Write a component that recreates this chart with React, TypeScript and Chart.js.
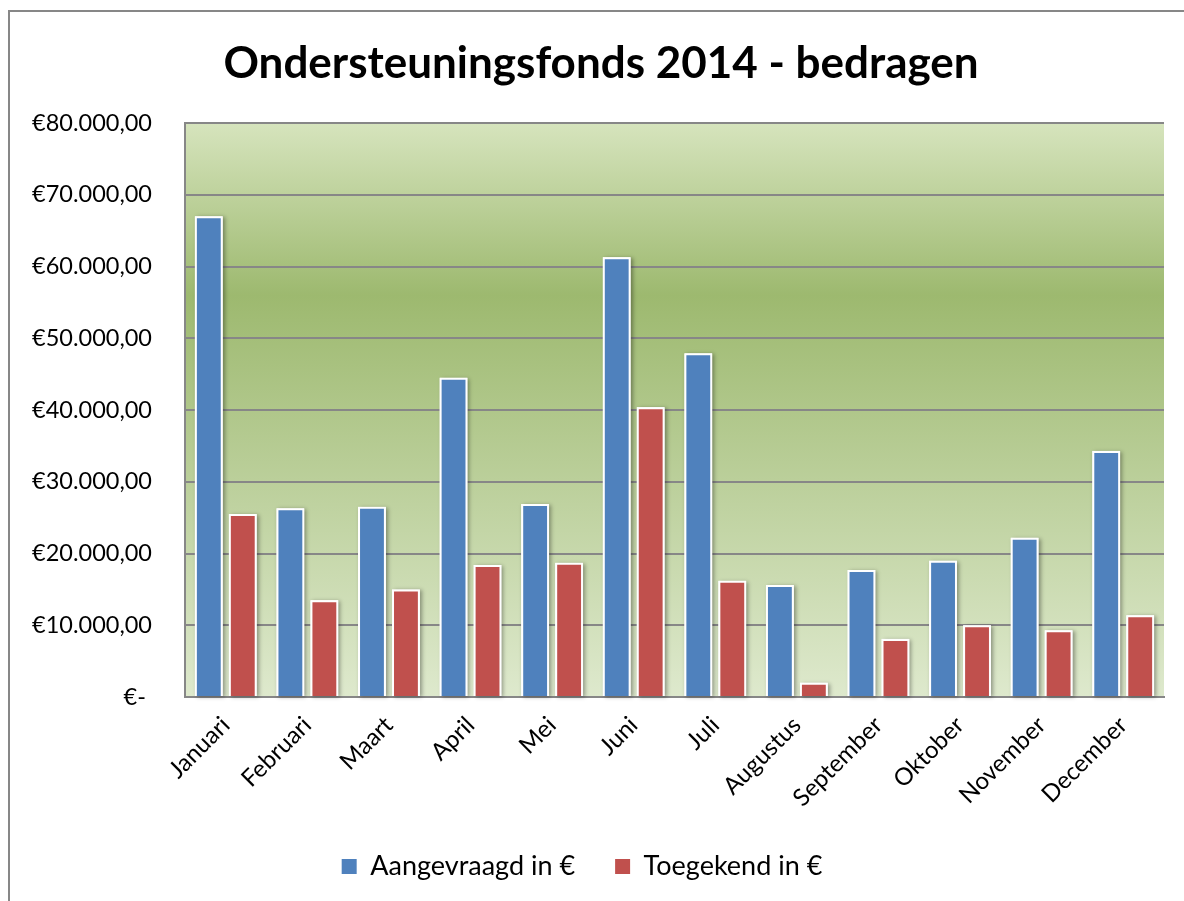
import { useEffect, useRef } from "react";
import { Chart, registerables } from "chart.js";

Chart.register(...registerables);

const chartTitle = "Ondersteuningsfonds 2014 - bedragen";
const months = [
  "Januari",
  "Februari",
  "Maart",
  "April",
  "Mei",
  "Juni",
  "Juli",
  "Augustus",
  "September",
  "Oktober",
  "November",
  "December",
];
const seriesNames = ["Aangevraagd in €", "Toegekend in €"];
const aangevraagd = [67000, 26300, 26500, 44500, 26900, 61300, 47900, 15600, 17700, 19000, 22200, 34300];
const toegekend = [25500, 13500, 15000, 18400, 18700, 40400, 16200, 2000, 8100, 10000, 9300, 11400];
const yMin = 0;
const yMax = 80000;
const yStep = 10000;

const FONT = "Lato, 'Open Sans', sans-serif";

function euro(v: number): string {
  if (v === 0) return "€- ";
  const s = Math.round(v)
    .toString()
    .replace(/\B(?=(\d{3})+(?!\d))/g, ".");
  return "€" + s + ",00";
}

const decorPlugin = {
  id: "decor",
  beforeDraw(chart: any) {
    const { ctx, chartArea, width, height } = chart;
    ctx.save();
    ctx.fillStyle = "#ffffff";
    ctx.fillRect(0, 0, width, height);
    ctx.strokeStyle = "#878787";
    ctx.lineWidth = 2;
    ctx.strokeRect(9, 11, width + 50, height + 50);
    const g = ctx.createLinearGradient(0, chartArea.top, 0, chartArea.bottom);
    g.addColorStop(0, "#d6e4bd");
    g.addColorStop(0.3, "#9db96f");
    g.addColorStop(1, "#dee9cd");
    ctx.fillStyle = g;
    ctx.fillRect(chartArea.left, chartArea.top, chartArea.right - chartArea.left, chartArea.bottom - chartArea.top);
    ctx.restore();
  },
  beforeDatasetsDraw(chart: any) {
    const { ctx } = chart;
    ctx.save();
    ctx.shadowColor = "rgba(0,0,0,0.35)";
    ctx.shadowBlur = 4;
    ctx.shadowOffsetX = 2;
    ctx.shadowOffsetY = 1;
    ctx.fillStyle = "#ffffff";
    chart.data.datasets.forEach((_d: any, i: number) => {
      const meta = chart.getDatasetMeta(i);
      meta.data.forEach((bar: any) => {
        const { x, y, base, width } = bar.getProps(["x", "y", "base", "width"], true);
        ctx.fillRect(x - width / 2, y, width, base - y);
      });
    });
    ctx.restore();
  },
  afterDraw(chart: any) {
    const { ctx } = chart;
    ctx.save();
    ctx.fillStyle = "#000000";
    ctx.font = `bold 44px ${FONT}`;
    ctx.textAlign = "center";
    ctx.textBaseline = "alphabetic";
    ctx.fillText(chartTitle, 601, 78);
    ctx.restore();
  },
};

export default function App() {
  const ref = useRef<HTMLCanvasElement | null>(null);

  useEffect(() => {
    if (!ref.current) return;
    const chart = new Chart(ref.current, {
      type: "bar",
      data: {
        labels: months,
        datasets: [
          {
            label: seriesNames[0],
            data: aangevraagd,
            backgroundColor: "#4f81bd",
            borderColor: "#ffffff",
            borderWidth: 2,
            categoryPercentage: 0.833,
            barPercentage: 0.82,
          },
          {
            label: seriesNames[1],
            data: toegekend,
            backgroundColor: "#c0504d",
            borderColor: "#ffffff",
            borderWidth: 2,
            categoryPercentage: 0.833,
            barPercentage: 0.82,
          },
        ],
      },
      options: {
        responsive: false,
        animation: false,
        devicePixelRatio: 1,
        layout: { padding: { top: 123, right: 20, bottom: 11, left: 0 } },
        plugins: {
          title: { display: false },
          tooltip: { enabled: false },
          legend: {
            position: "bottom",
            labels: {
              boxWidth: 15,
              boxHeight: 15,
              padding: 40,
              color: "#000000",
              font: { family: FONT, size: 27 },
              generateLabels: (c: any) =>
                Chart.defaults.plugins.legend.labels
                  .generateLabels(c)
                  .map((l: any) => ({ ...l, lineWidth: 0, strokeStyle: l.fillStyle })),
            },
          },
        },
        scales: {
          x: {
            grid: { display: false, drawTicks: false },
            border: { display: true, color: "#878787", width: 2 },
            ticks: {
              minRotation: 45,
              maxRotation: 45,
              padding: 14,
              color: "#000000",
              font: { family: FONT, size: 24 },
            },
            afterFit: (s: any) => {
              s.height = 116;
            },
          },
          y: {
            min: yMin,
            max: yMax,
            ticks: {
              stepSize: yStep,
              padding: 33,
              color: "#000000",
              font: { family: FONT, size: 23.5 },
              callback: (v: any) => euro(Number(v)),
            },
            grid: { color: "#878787", lineWidth: 2, drawTicks: false },
            border: { display: true, color: "#878787", width: 2 },
            afterFit: (s: any) => {
              s.width = 185;
            },
          },
        },
      },
      plugins: [decorPlugin],
    });
    return () => chart.destroy();
  }, []);

  return (
    <div style={{ position: "absolute", left: 0, top: 0, width: 1184, height: 901 }}>
      <canvas ref={ref} width={1184} height={901} style={{ display: "block" }} />
    </div>
  );
}
